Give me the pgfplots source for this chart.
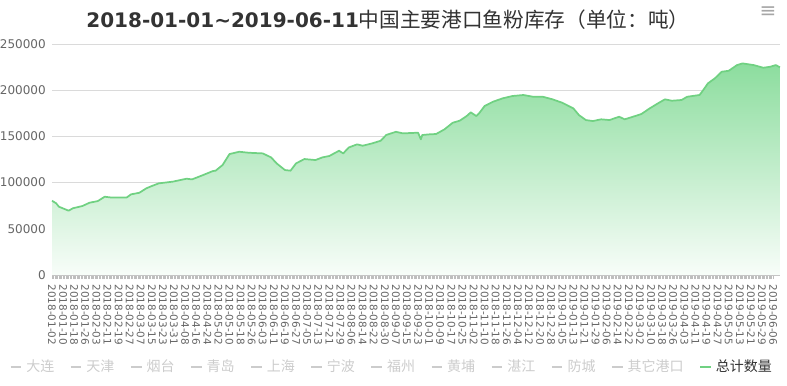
\documentclass[border=0pt]{standalone}
\usepackage{pgfplots}
\pgfplotsset{compat=1.18}
\usepackage{fontspec}
\setmainfont{DejaVu Sans}
\newfontfamily\cjk{Noto Sans CJK SC}
\definecolor{linegreen}{RGB}{112,209,130}
\definecolor{filltop}{RGB}{140,221,158}
\definecolor{fillbot}{RGB}{248,253,249}
\definecolor{gridgray}{RGB}{218,218,218}
\definecolor{tickgray}{RGB}{190,190,190}
\definecolor{labgray}{RGB}{102,102,102}
\definecolor{dis}{RGB}{204,204,204}
\definecolor{titlec}{RGB}{51,51,51}
\begin{document}
\begin{tikzpicture}
\useasboundingbox (-39pt,-82.5pt) rectangle (551.25pt,206.25pt);
\begin{axis}[
  at={(0pt,0pt)}, anchor=south west,
  scale only axis, width=546pt, height=173.25pt,
  xmin=0, xmax=525, ymin=0, ymax=250000,
  axis lines*=left,
  y axis line style={draw=none},
  x axis line style={draw=tickgray, line width=0.6pt},
  ytick={0,50000,100000,150000,200000,250000},
  ytick style={draw=none},
  ymajorgrids, major grid style={draw=gridgray, line width=0.7pt},
  scaled y ticks=false,
  /pgf/number format/.cd, fixed, 1000 sep={}, assume math mode=true, /pgfplots/.cd,
  yticklabel style={font=\fontsize{9pt}{10pt}\selectfont, color=labgray, inner sep=1.5pt},
  xtick={0,8,...,520},
  minor x tick num=7,
  tick align=outside,
  major tick length=3pt, minor tick length=3pt,
  xtick style={draw=tickgray, line width=0.4pt},
  minor x tick style={draw=tickgray, line width=0.4pt},
  xticklabel style={font=\fontsize{7.8pt}{9pt}\selectfont, color=labgray, rotate=-90, anchor=west, inner sep=0.5pt},
  xticklabel shift=3.5pt,
  xticklabels={2018-01-02,2018-01-10,2018-01-18,2018-01-26,2018-02-03,2018-02-11,2018-02-19,2018-02-27,2018-03-07,2018-03-15,2018-03-23,2018-03-31,2018-04-08,2018-04-16,2018-04-24,2018-05-02,2018-05-10,2018-05-18,2018-05-26,2018-06-03,2018-06-11,2018-06-19,2018-06-27,2018-07-05,2018-07-13,2018-07-21,2018-07-29,2018-08-06,2018-08-14,2018-08-22,2018-08-30,2018-09-07,2018-09-15,2018-09-23,2018-10-01,2018-10-09,2018-10-17,2018-10-25,2018-11-02,2018-11-10,2018-11-18,2018-11-26,2018-12-04,2018-12-12,2018-12-20,2018-12-28,2019-01-05,2019-01-13,2019-01-21,2019-01-29,2019-02-06,2019-02-14,2019-02-22,2019-03-02,2019-03-10,2019-03-18,2019-03-26,2019-04-03,2019-04-11,2019-04-19,2019-04-27,2019-05-05,2019-05-13,2019-05-21,2019-05-29,2019-06-06},
  legend columns=12,
  legend style={at={(0.467,-0.398)}, anchor=center, draw=none, fill=none,
    font=\fontsize{10.5pt}{12pt}\selectfont\cjk,
    /tikz/every even column/.append style={column sep=9.5pt},
    /tikz/every odd column/.append style={column sep=1pt}},
  legend image code/.code={\draw[#1, line width=1.6pt] (0pt,0pt) -- (8pt,0pt);},
  clip=false,
]
\addplot[draw=none, top color=filltop, bottom color=fillbot, forget plot] table {
x y
0 80400
3 77600
5 73900
12 69600
15 72200
22 74700
27 78200
33 80000
38 84700
42 84000
54 84000
57 87300
63 89000
68 93800
72 96300
77 99200
87 101000
97 104200
101 103500
109 108200
116 112500
118 112900
123 119000
128 130900
135 133400
142 132300
152 131600
158 127300
162 120800
168 113600
172 112900
176 120800
182 125500
190 124400
195 127300
200 128800
207 134500
210 131600
214 138000
220 141400
224 139900
231 142500
237 145300
241 151500
248 155000
253 153300
264 154000
266 146800
267 151500
272 152200
277 152600
283 157600
289 164800
294 167000
299 172000
302 176000
306 172000
308 175000
312 182900
318 187500
325 191200
332 193700
340 194800
347 192900
354 192900
361 190100
368 186400
376 180300
380 173100
385 167700
390 166600
396 168500
402 167700
409 171300
413 168500
419 171300
425 174200
431 180300
437 185800
442 190100
447 188600
454 189400
458 192900
467 194800
470 200900
473 207400
478 212800
483 220000
488 221000
494 227200
498 229000
506 227200
513 224300
518 225400
522 227200
525 224700
} \closedcycle;
\addlegendimage{color=dis}\addlegendentry{\textcolor{dis}{大连}}
\addlegendimage{color=dis}\addlegendentry{\textcolor{dis}{天津}}
\addlegendimage{color=dis}\addlegendentry{\textcolor{dis}{烟台}}
\addlegendimage{color=dis}\addlegendentry{\textcolor{dis}{青岛}}
\addlegendimage{color=dis}\addlegendentry{\textcolor{dis}{上海}}
\addlegendimage{color=dis}\addlegendentry{\textcolor{dis}{宁波}}
\addlegendimage{color=dis}\addlegendentry{\textcolor{dis}{福州}}
\addlegendimage{color=dis}\addlegendentry{\textcolor{dis}{黄埔}}
\addlegendimage{color=dis}\addlegendentry{\textcolor{dis}{湛江}}
\addlegendimage{color=dis}\addlegendentry{\textcolor{dis}{防城}}
\addlegendimage{color=dis}\addlegendentry{\textcolor{dis}{其它港口}}
\addplot[color=linegreen, line width=1.3pt, line join=round] table {
x y
0 80400
3 77600
5 73900
12 69600
15 72200
22 74700
27 78200
33 80000
38 84700
42 84000
54 84000
57 87300
63 89000
68 93800
72 96300
77 99200
87 101000
97 104200
101 103500
109 108200
116 112500
118 112900
123 119000
128 130900
135 133400
142 132300
152 131600
158 127300
162 120800
168 113600
172 112900
176 120800
182 125500
190 124400
195 127300
200 128800
207 134500
210 131600
214 138000
220 141400
224 139900
231 142500
237 145300
241 151500
248 155000
253 153300
264 154000
266 146800
267 151500
272 152200
277 152600
283 157600
289 164800
294 167000
299 172000
302 176000
306 172000
308 175000
312 182900
318 187500
325 191200
332 193700
340 194800
347 192900
354 192900
361 190100
368 186400
376 180300
380 173100
385 167700
390 166600
396 168500
402 167700
409 171300
413 168500
419 171300
425 174200
431 180300
437 185800
442 190100
447 188600
454 189400
458 192900
467 194800
470 200900
473 207400
478 212800
483 220000
488 221000
494 227200
498 229000
506 227200
513 224300
518 225400
522 227200
525 224700
};
\addlegendentry{\textcolor{titlec}{总计数量}}
\node[anchor=center, text=titlec, inner sep=0pt] at (rel axis cs:0.4615,1.104)
  {{\fontsize{15pt}{18pt}\selectfont\bfseries 2018-01-01\textasciitilde 2019-06-11}{\fontsize{15.5pt}{18pt}\selectfont\cjk 中国主要港口鱼粉库存（单位：吨）}};
\node[anchor=center, text=gray!70, inner sep=0pt] at (rel axis cs:0.9835,1.1385)
  {\fontsize{15pt}{18pt}\selectfont ≡};
\end{axis}
\end{tikzpicture}
\end{document}
